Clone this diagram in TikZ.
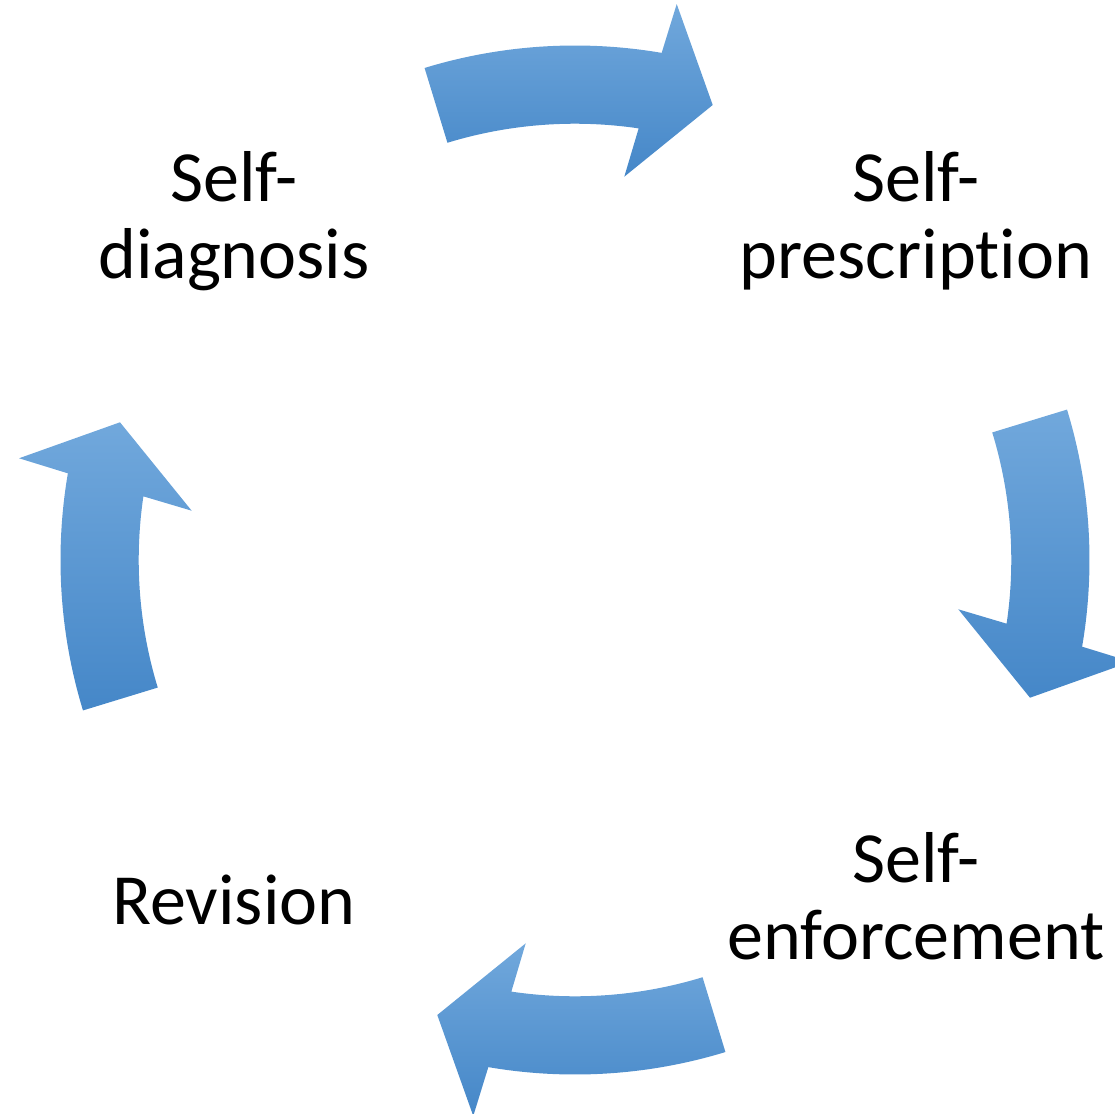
\documentclass[tikz,border=0pt]{standalone}
\usepackage{fontspec}
\setmainfont[Ligatures={NoCommon}]{Carlito}
\usepackage{xcolor}
\usepackage{tikz}

\definecolor{arrowtop}{HTML}{71A8DC}
\definecolor{arrowmid}{HTML}{5B9BD6}
\definecolor{arrowbot}{HTML}{4587C8}

\begin{document}
\begin{tikzpicture}[x=0.02cm, y=0.02cm,
    stage/.style={align=center, inner sep=0pt, anchor=base,
      font=\fontsize{41}{43.8}\selectfont},
    loop arrow/.style={top color=arrowtop, middle color=arrowmid,
      bottom color=arrowbot}]
  \useasboundingbox (-575,-553) rectangle (540,560);

  % one curved arrow of the cycle, #1 = turn in degrees
  \def\cyclearrow#1{
    \shade[loop arrow]
      ({107+#1}:514.5) arc[start angle={107+#1}, end angle={80.3+#1}, radius=514.5]
      -- ({79.63+#1}:565.2) -- ({73.16+#1}:475.4) -- ({82.67+#1}:386.5)
      -- ({81.61+#1}:436.3) arc[start angle={81.61+#1}, end angle={107+#1}, radius=436.3]
      -- cycle;
  }
  \cyclearrow{0}
  \cyclearrow{-90}
  \cyclearrow{-180}
  \cyclearrow{-270}

  % base anchor sits on the last line
  \node[stage] (diag) at (-341, 282) {Self-\\diagnosis};
  \node[stage] (presc) at (341, 282) {Self-\\prescription};
  \node[stage] (enforce) at (341, -399) {Self-\\enforcement};
  \node[stage] (revise) at (-341, -364) {Revision};
\end{tikzpicture}
\end{document}
